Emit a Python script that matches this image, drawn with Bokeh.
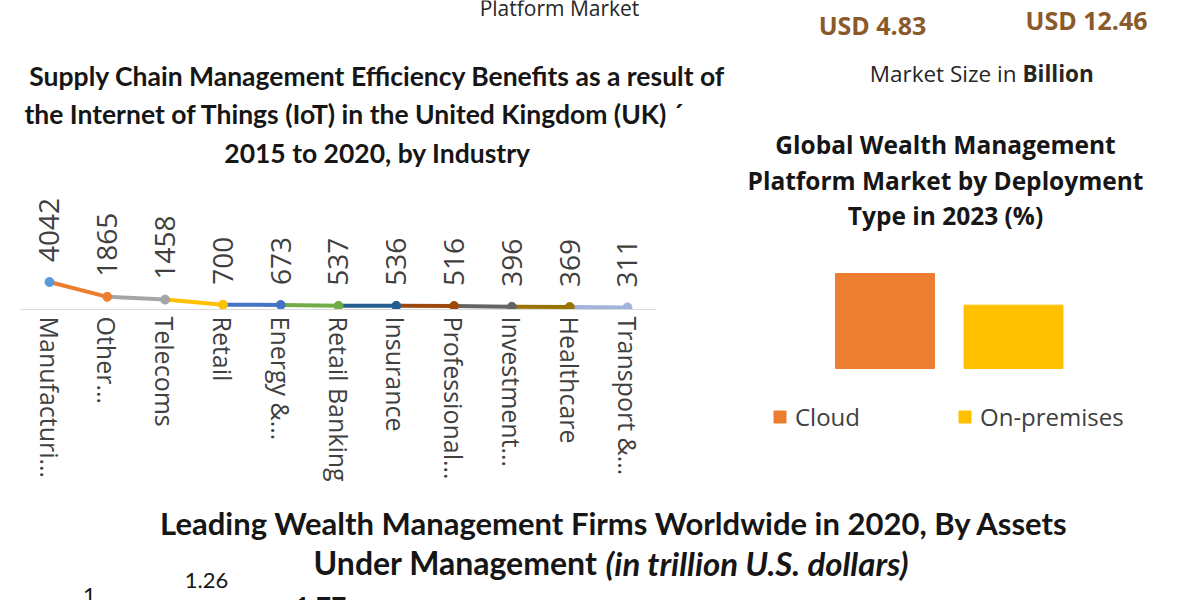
from math import pi
from bokeh.plotting import figure
from bokeh.layouts import column, row
from bokeh.models import (Range1d, ColumnDataSource, LabelSet, Legend, LegendItem,
                          FixedTicker)
from bokeh.embed import file_html
from bokeh.resources import INLINE
from bokeh.core.properties import value

# ---------------- data ----------------
industries = ["Manufacturi…", "Other…", "Telecoms", "Retail", "Energy &…", "Retail Banking",
              "Insurance", "Professional…", "Investment…", "Healthcare", "Transport &…"]
benefits = [4042, 1865, 1458, 700, 673, 537, 536, 516, 396, 369, 311]
point_colors = ["#5B9BD5", "#ED7D31", "#A5A5A5", "#FFC000", "#4472C4", "#70AD47",
                "#255E91", "#9E480E", "#636363", "#997300", "#A2B4DC"]

deployment = ["Cloud", "On-premises"]
deployment_share = [60, 40]
deployment_colors = ["#ED7D31", "#FFC000"]

market_sizes = ["USD 4.83", "USD 12.46"]

left_title = ["Supply Chain Management Efficiency Benefits as a result of",
              "the Internet of Things (IoT) in the United Kingdom (UK) ´",
              "2015 to 2020, by Industry"]
right_title = ["Global Wealth Management", "Platform Market by Deployment", "Type in 2023 (%)"]
bottom_title = "Leading Wealth Management Firms Worldwide in 2020, By Assets"
bottom_title2a = "Under Management"
bottom_title2b = "(in trillion U.S. dollars)"
firm_assets_visible = ["1", "1.26", "1.77"]

TITLE = "#161616"
GRAY = "#404040"

# ---------------- left panel: title + line chart ----------------
LW, LH, LAXIS = 745, 490, 181
X0, XSTEP = 49, 57.8          # pixel position of first category and category step
YPX = 6.8 / 1000              # pixels per unit of value
FRAME_H = LH - LAXIS


def lpos(px, py):
    return (px - X0) / XSTEP, (FRAME_H - py) / YPX


lc = figure(width=LW, height=LH,
            x_range=Range1d(-X0 / XSTEP, (LW - X0) / XSTEP),
            y_range=Range1d(0, FRAME_H / YPX), y_axis_type=None,
            output_backend="svg", toolbar_location=None,
            min_border_left=0, min_border_right=0, min_border_top=0,
            min_border_bottom=LAXIS)
lc.grid.visible = False
lc.outline_line_color = None
idx = list(range(len(industries)))
ax = lc.xaxis[0]
ax.ticker = FixedTicker(ticks=idx)
ax.major_label_overrides = {i: n for i, n in enumerate(industries)}
ax.bounds = (-0.5, len(industries) - 0.5)
ax.axis_line_color = "#D9D9D9"
ax.axis_line_width = 1
ax.major_tick_line_color = None
ax.minor_tick_line_color = None
ax.major_label_orientation = "vertical"
ax.major_label_text_font = "Open Sans"
ax.major_label_text_font_size = "25px"
ax.major_label_text_color = GRAY
ax.major_label_standoff = 1

seg_src = ColumnDataSource(dict(x0=idx[:-1], y0=benefits[:-1], x1=idx[1:],
                                y1=benefits[1:], c=point_colors[1:]))
lc.segment(x0="x0", y0="y0", x1="x1", y1="y1", line_color="c", line_width=4, source=seg_src)
pt_src = ColumnDataSource(dict(x=idx, y=benefits, c=point_colors,
                               lab=[str(v) for v in benefits]))
lc.scatter(x="x", y="y", color="c", size=9, source=pt_src)
lc.add_layout(LabelSet(x="x", y="y", text="lab", source=pt_src, angle=pi / 2,
                       text_align="left", text_baseline="middle", y_offset=20,
                       text_font=value("Open Sans"), text_font_size="28px", text_color=GRAY))

# titles (positions given in pixels of the panel)
tx, ty = lpos(559, 7)
lc.text(x=[tx], y=[ty], text=["Platform Market"], text_font=value("Open Sans"),
        text_font_size="21px", text_color="#262626", text_align="center",
        text_baseline="alphabetic")
pos = [lpos(377, 75), lpos(354, 113), lpos(377, 152)]
lc.text(x=[p[0] for p in pos], y=[p[1] for p in pos], text=left_title,
        text_font=value("Lato"), text_font_style="bold", text_font_size="26.5px",
        text_color=TITLE, text_align="center", text_baseline="middle")

# ---------------- right panel: texts + bar chart ----------------
RW, RH = 455, 490
BX0, BSTEP = 139.5, 128.5     # pixel centre of first bar and bar step
BY0, BPX = 368, 95 / 60       # pixel of zero line and pixels per percent


def rpos(px, py):
    return (px - BX0) / BSTEP, (BY0 - py) / BPX


rc = figure(width=RW, height=RH,
            x_range=Range1d(-BX0 / BSTEP, (RW - BX0) / BSTEP),
            y_range=Range1d(-(RH - BY0) / BPX, BY0 / BPX),
            x_axis_type=None, y_axis_type=None, output_backend="svg",
            toolbar_location=None, min_border=0)
rc.grid.visible = False
rc.outline_line_color = None
bar_src = ColumnDataSource(dict(x=[0, 1], top=deployment_share, c=deployment_colors,
                                name=deployment))
bars = rc.vbar(x="x", top="top", bottom=0, width=0.77, color="c", source=bar_src)
for i, loc in enumerate([(27, 57), (212, 57)]):
    leg = Legend(items=[LegendItem(label=deployment[i], renderers=[bars], index=i)],
                 location=loc, orientation="horizontal", border_line_color=None,
                 background_fill_alpha=0, padding=0, margin=0, glyph_width=15,
                 glyph_height=15, label_standoff=8, label_text_font="Open Sans",
                 label_text_font_size="24px", label_text_color=GRAY)
    rc.add_layout(leg)

pos = [rpos(127, 24), rpos(341, 19)]
rc.text(x=[p[0] for p in pos], y=[p[1] for p in pos], text=market_sizes,
        text_font=value("Open Sans"), text_font_style="bold", text_font_size="25px",
        text_color="#8A5A2B", text_align="center", text_baseline="middle")
p1, p2 = rpos(271, 73), rpos(277, 73)
rc.text(x=[p1[0]], y=[p1[1]], text=["Market Size in"], text_font=value("Open Sans"),
        text_font_size="22.5px", text_color="#262626", text_align="right",
        text_baseline="middle")
rc.text(x=[p2[0]], y=[p2[1]], text=["Billion"], text_font=value("Open Sans"),
        text_font_style="bold", text_font_size="22.5px", text_color="#262626",
        text_align="left", text_baseline="middle")
pos = [rpos(200, 144), rpos(200, 180), rpos(200, 215)]
rc.text(x=[p[0] for p in pos], y=[p[1] for p in pos], text=right_title,
        text_font=value("Open Sans"), text_font_style="bold", text_font_size="24.5px",
        text_color=TITLE, text_align="center", text_baseline="middle")

# ---------------- bottom panel ----------------
bt = figure(width=1200, height=110, x_range=Range1d(0, 1200), y_range=Range1d(110, 0),
            x_axis_type=None, y_axis_type=None, output_backend="svg",
            toolbar_location=None, min_border=0)
bt.grid.visible = False
bt.outline_line_color = None
bt.text(x=[614], y=[32], text=[bottom_title], text_font=value("Lato"), text_font_style="bold",
        text_font_size="31px", text_color=TITLE, text_align="center", text_baseline="middle")
bt.text(x=[597], y=[72], text=[bottom_title2a], text_font=value("Lato"), text_font_style="bold",
        text_font_size="32px", text_color=TITLE, text_align="right", text_baseline="middle")
bt.text(x=[605], y=[72], text=[bottom_title2b], text_font=value("Lato"),
        text_font_style="bold italic", text_font_size="33px", text_color=TITLE,
        text_align="left", text_baseline="middle")
bt.text(x=[89, 206], y=[97, 82], text=firm_assets_visible[:2], text_font=value("Lato"),
        text_font_size="22px", text_color=TITLE, text_align="center", text_baseline="top")
bt.text(x=[320], y=[106], text=firm_assets_visible[2:], text_font=value("Lato"),
        text_font_style="bold", text_font_size="26px", text_color=TITLE, text_align="center",
        text_baseline="top")

layout = column(row(column(lc), column(rc), spacing=0), bt, spacing=0)

with open("out.html", "w") as fh:
    fh.write(file_html(layout, INLINE))
